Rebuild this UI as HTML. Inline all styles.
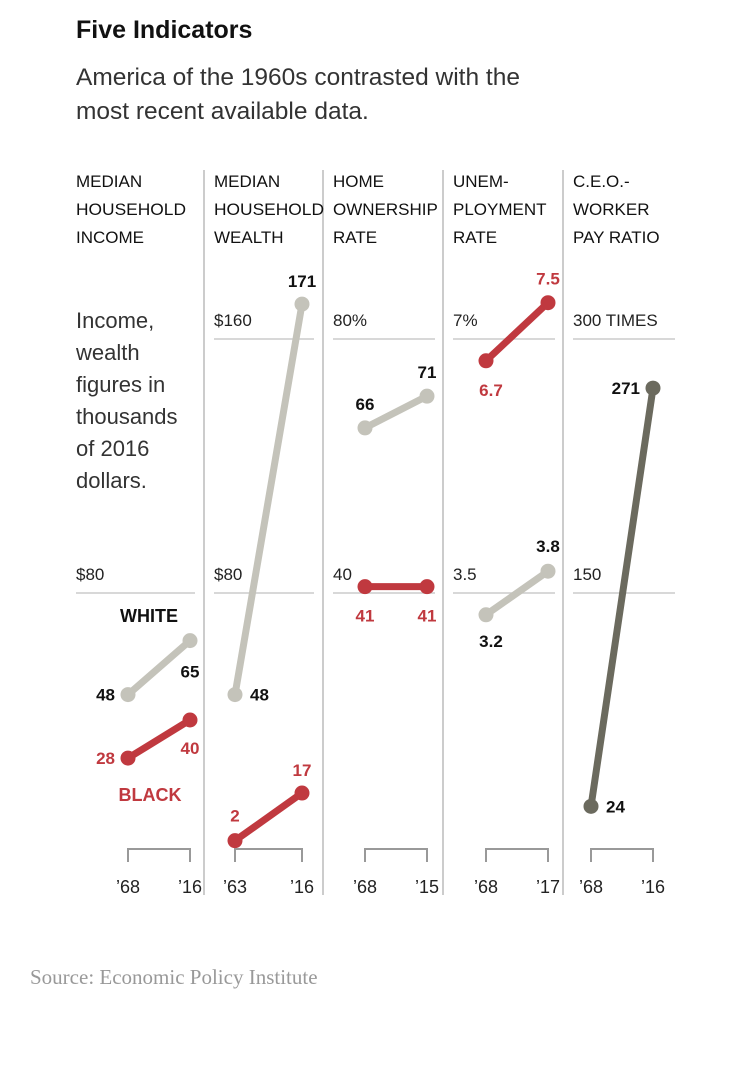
<!DOCTYPE html>
<html><head><meta charset="utf-8"><style>
body{margin:0;background:#fff;width:750px;height:1066px;overflow:hidden}
svg{display:block}
text{font-family:"Liberation Sans",sans-serif}
</style></head><body>
<svg id="c" width="750" height="1066">
<text x="76" y="38" font-size="25" font-weight="bold" fill="#111">Five Indicators</text>
<text x="76" y="85" font-size="24.5" fill="#333">America of the 1960s contrasted with the</text>
<text x="76" y="119" font-size="24.5" fill="#333">most recent available data.</text>
<g font-size="22" fill="#333">
<text x="76" y="328">Income,</text><text x="76" y="360">wealth</text><text x="76" y="392">figures in</text>
<text x="76" y="424">thousands</text><text x="76" y="456">of 2016</text><text x="76" y="488">dollars.</text></g>
<text x="30" y="984" font-size="21" fill="#999" style="font-family:'Liberation Serif',serif">Source: Economic Policy Institute</text>
<g id="g"></g>
</svg>
<script>
const panelTitles=[["MEDIAN","HOUSEHOLD","INCOME"],["MEDIAN","HOUSEHOLD","WEALTH"],["HOME","OWNERSHIP","RATE"],["UNEM-","PLOYMENT","RATE"],["C.E.O.-","WORKER","PAY RATIO"]];
const years=[["’68","’16"],["’63","’16"],["’68","’15"],["’68","’17"],["’68","’16"]];
const gridVals=[[null,80],[160,80],[80,40],[7,3.5],[300,150]];
const gridLabels=[[null,"$80"],["$160","$80"],["80%","40"],["7%","3.5"],["300 TIMES","150"]];
const whiteVals=[[48,65],[48,171],[66,71],[3.2,3.8],[24,271]];
const blackVals=[[28,40],[2,17],[41,41],[6.7,7.5],null];
const whiteLabels=[["48","65"],["48","171"],["66","71"],["3.2","3.8"],["24","271"]];
const blackLabels=[["28","40"],["2","17"],["41","41"],["6.7","7.5"],null];
const NS="http://www.w3.org/2000/svg",G=document.getElementById('g');
function el(t,a,p){const e=document.createElementNS(NS,t);for(const k in a)e.setAttribute(k,a[k]);(p||G).appendChild(e);return e;}
const px=[76,214,333,453,573],pw=[119,100,102,102,102];
const xs=[[128,190],[235,302],[365,427],[486,548],[591,653]];
function yScale(i){const top=i==0?160:gridVals[i][0],mid=gridVals[i][1];return v=>593-(v-mid)*(254/(top-mid));}
const GRAY="#c4c3ba",RED="#c0393f",DARK="#6b6a5e";
[204,323,443,563].forEach((x,i)=>{const l=el('line',{x1:x,x2:x,y1:170,y2:895,stroke:"#ccc","stroke-width":2});
});
for(let i=0;i<5;i++){
 const y=yScale(i),g=el('g',{});
 
 panelTitles[i].forEach((t,j)=>{const e=el('text',{x:px[i],y:187+j*28,"font-size":17,fill:"#111",textLength:t=="HOUSEHOLD"?110:"","lengthAdjust":"spacingAndGlyphs"},g);
  if(t!="HOUSEHOLD")e.removeAttribute('textLength');e.textContent=t;
  });
 gridVals[i].forEach((v,j)=>{if(v==null)return;const yy=y(v);
  const l=el('line',{x1:px[i],x2:px[i]+pw[i],y1:yy,y2:yy,stroke:"#ccc","stroke-width":1.5},g);
  
  const t=el('text',{x:px[i],y:yy-13,"font-size":17,fill:"#222"},g);t.textContent=gridLabels[i][j];
  });
 const b=el('path',{d:`M${xs[i][0]},862V849H${xs[i][1]}V862`,fill:"none",stroke:"#999","stroke-width":2},g);
 
 years[i].forEach((t,j)=>{const e=el('text',{x:xs[i][j],y:893,"font-size":18,fill:"#222","text-anchor":"middle"},g);e.textContent=t;
  });
 const series=[[whiteVals[i],whiteLabels[i],i==4?DARK:GRAY,"#111","white"],[blackVals[i],blackLabels[i],RED,RED,"black"]];
 series.forEach(([vals,labs,col,tc,nm])=>{if(!vals)return;
  const y0=y(vals[0]),y1=y(vals[1]);
  const l=el('line',{x1:xs[i][0],x2:xs[i][1],y1:y0,y2:y1,stroke:col,"stroke-width":7},g);
  
  [y0,y1].forEach((yy,j)=>{const c=el('circle',{cx:xs[i][j],cy:yy,r:7.5,fill:col},g);
   
   let lx,ly,anc;
   if(i==0){lx=j==0?xs[i][j]-13:xs[i][j];anc=j==0?"end":"middle";ly=j==0?yy+6:yy+(nm=="white"?37:34);}
   else if(i==1){if(nm=="white"){lx=j==0?xs[i][j]+15:xs[i][j];anc=j==0?"start":"middle";ly=j==0?yy+6:yy-17;}
    else{lx=xs[i][j];anc="middle";ly=j==0?yy-19:yy-17;}}
   else if(i==2){lx=xs[i][j];anc="middle";ly=nm=="white"?yy-18:yy+35;}
   else if(i==3){lx=xs[i][j]+(j==0?5:0);anc="middle";
    ly=nm=="white"?(j==0?yy+32:yy-19):(j==0?yy+35:yy-18);}
   else{lx=j==0?xs[i][j]+15:xs[i][j]-13;anc=j==0?"start":"end";ly=yy+6;}
   const t=el('text',{x:lx,y:ly,"font-size":17,"font-weight":"bold",fill:tc,"text-anchor":anc},g);t.textContent=labs[j];
   });
 });
}
const w=el('text',{x:149,y:622,"font-size":18,"font-weight":"bold",fill:"#111","text-anchor":"middle"});w.textContent="WHITE";

const k=el('text',{x:150,y:801,"font-size":18,"font-weight":"bold",fill:RED,"text-anchor":"middle"});k.textContent="BLACK";

</script>
</body></html>
